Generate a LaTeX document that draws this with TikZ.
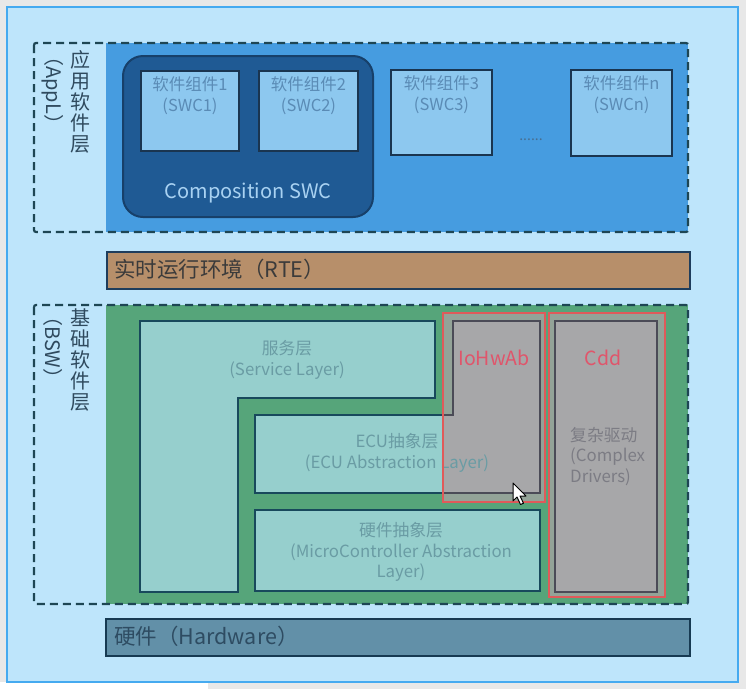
\documentclass[tikz,border=0pt]{standalone}
\usepackage{fontspec}
\setmainfont{Noto Sans CJK SC}
\usetikzlibrary{positioning}
\definecolor{screengray}{HTML}{E8E8E8}
\definecolor{panelfill}{HTML}{BEE5FB}
\definecolor{panelline}{HTML}{45AAF0}
\definecolor{applblue}{HTML}{469CE0}
\definecolor{compfill}{HTML}{1F5A94}
\definecolor{compline}{HTML}{17406A}
\definecolor{comptext}{HTML}{A9D2F2}
\definecolor{swcfill}{HTML}{8DC8EF}
\definecolor{swcline}{HTML}{1A3550}
\definecolor{swctext}{HTML}{5A8BB5}
\definecolor{rtefill}{HTML}{B78F6A}
\definecolor{rteline}{HTML}{1E3D5C}
\definecolor{rtetext}{HTML}{3B3B3B}
\definecolor{bswgreen}{HTML}{56A57A}
\definecolor{layerfill}{HTML}{96CFCD}
\definecolor{layerline}{HTML}{18495C}
\definecolor{layertext}{HTML}{6A9CA4}
\definecolor{grayfill}{HTML}{A7A7A9}
\definecolor{grayline}{HTML}{4B4B57}
\definecolor{graytint}{HTML}{93A398}
\definecolor{cddtext}{HTML}{7C7C84}
\definecolor{redline}{HTML}{E05A5A}
\definecolor{redtext}{HTML}{E0556B}
\definecolor{hwfill}{HTML}{6290A8}
\definecolor{hwline}{HTML}{173A52}
\definecolor{hwtext}{HTML}{2E4C62}
\definecolor{dashcol}{HTML}{1E4654}
\definecolor{sidetext}{HTML}{2F4A5E}
\begin{document}
\begin{tikzpicture}[x=1pt,y=-1pt]
        \tikzstyle{swcbox}=[rectangle, draw=swcline, line width=2pt, fill=swcfill, inner sep=0pt, anchor=north west]
        \tikzstyle{swclabel}=[align=center, text=swctext, font=\fontsize{16.5}{21}\selectfont, inner sep=0pt]
        \tikzstyle{layerbox}=[draw=layerline, line width=2pt, fill=layerfill]
        \tikzstyle{layerlabel}=[align=center, text=layertext, font=\fontsize{16.8}{20.5}\selectfont, inner sep=0pt]
        \tikzstyle{graybox}=[draw=grayline, line width=2pt, fill=grayfill]
        \tikzstyle{redframe}=[draw=redline, line width=1.5pt]
        \tikzstyle{redlabel}=[text=redtext, font=\fontsize{19.5}{21}\selectfont, inner sep=0pt]
        \tikzstyle{dashframe}=[draw=dashcol, line width=2.2pt, dash pattern=on 8pt off 5pt, rounded corners=2pt]
        \tikzstyle{sidecjk}=[align=center, text=sidetext, font=\fontsize{20}{21}\selectfont, inner sep=0pt, anchor=north]
        \tikzstyle{sidelatin}=[text=sidetext, font=\fontsize{20}{21}\selectfont, inner sep=0pt, rotate=-90, anchor=west]
        \tikzstyle{barbox}=[rectangle, line width=2pt, anchor=north west, inner sep=0pt]
        \tikzstyle{barlabel}=[font=\fontsize{21.5}{23}\selectfont, inner sep=0pt, anchor=west]
        % screen and panel
        \useasboundingbox[fill=screengray] (0,0) rectangle (746,689);
        \fill[white] (0,682) rectangle (208,689);
        \draw[draw=panelline, fill=panelfill, line width=1.5pt] (7,7) rectangle (738,682);
        % application layer
        \fill[applblue] (106,43) rectangle (688,232);
        \draw[dashframe] (34,43) rectangle (688,232);
        \node[sidecjk] (applcn) at (80,50) {应\\用\\软\\件\\层};
        \node[sidelatin] (applen) at (53,46) {（AppL）};
        \draw[draw=compline, fill=compfill, line width=2pt, rounded corners=20pt] (123,56) rectangle (373,217);
        \node[text=comptext, font=\fontsize{20}{22}\selectfont] (comp) at (248,193) {Composition SWC};
        \foreach \n/\x/\y/\w/\h in {1/140/70/98/80, 2/258/70/99/80, 3/390/69/101/85, n/570/69/101/86} {
            \node[swcbox, minimum width=\w pt, minimum height=\h pt] (swc\n) at (\x,\y) {};
            \node[swclabel, below=6pt of swc\n.north] (swct\n) {软件组件\n\\(SWC\n)};
        }
        \node[text=swctext!80!black, font=\fontsize{14}{16}\selectfont] (dots) at (531,140) {......};
        % runtime environment
        \node[barbox, draw=rteline, fill=rtefill, minimum width=583pt, minimum height=37pt] (rte) at (106,251) {};
        \node[barlabel, text=rtetext] (rtet) at (114,269.5) {实时运行环境（RTE）};
        % basic software
        \fill[bswgreen] (106,305) rectangle (688,604);
        \draw[layerbox] (140,321) -- (435,321) -- (435,398) -- (238,398) -- (238,592) -- (140,592) -- cycle;
        \draw[layerbox] (255,415) -- (453,415) -- (453,321) -- (540,321) -- (540,493) -- (255,493) -- cycle;
        \draw[layerbox] (255,510) rectangle (540,591);
        \fill[graytint] (443,313) rectangle (545,502);
        \draw[graybox] (443,415) -- (453,415) -- (453,321) -- (540,321) -- (540,493) -- (443,493);
        \fill[graytint] (549,313) rectangle (665,597);
        \draw[graybox] (555,321) rectangle (657,592);
        \node[layerlabel] (service) at (287,360) {服务层\\(Service Layer)};
        \node[layerlabel] (ecu) at (397,453) {ECU抽象层\\(ECU Abstraction Layer)};
        \node[layerlabel] (mcal) at (401,552) {硬件抽象层\\(MicroController Abstraction\\Layer)};
        \node[layerlabel, text=cddtext, align=left, anchor=north west] (cdddesc) at (570,427) {复杂驱动\\(Complex\\Drivers)};
        \node[redlabel] (iohwab) at (494,358) {IoHwAb};
        \node[redlabel] (cdd) at (603,358) {Cdd};
        \draw[redframe] (443,313) rectangle (545,502);
        \draw[redframe] (549,313) rectangle (665,597);
        \draw[dashframe] (34,305) rectangle (688,604);
        \node[sidecjk] (bswcn) at (80,308) {基\\础\\软\\件\\层};
        \node[sidelatin] (bswen) at (53,306) {（BSW）};
        % hardware
        \node[barbox, draw=hwline, fill=hwfill, minimum width=584pt, minimum height=37pt] (hw) at (105,618) {};
        \node[barlabel, text=hwtext] (hwt) at (114,636.5) {硬件（Hardware）};
        % mouse pointer
        \draw[fill=white, draw=black, line width=1pt, line join=round] (513,483) -- ++(0,18) -- ++(4,-4) -- ++(3.5,7.5) -- ++(3,-1.3) -- ++(-3.5,-7.2) -- ++(6,0) -- cycle;
\end{tikzpicture}
\end{document}
